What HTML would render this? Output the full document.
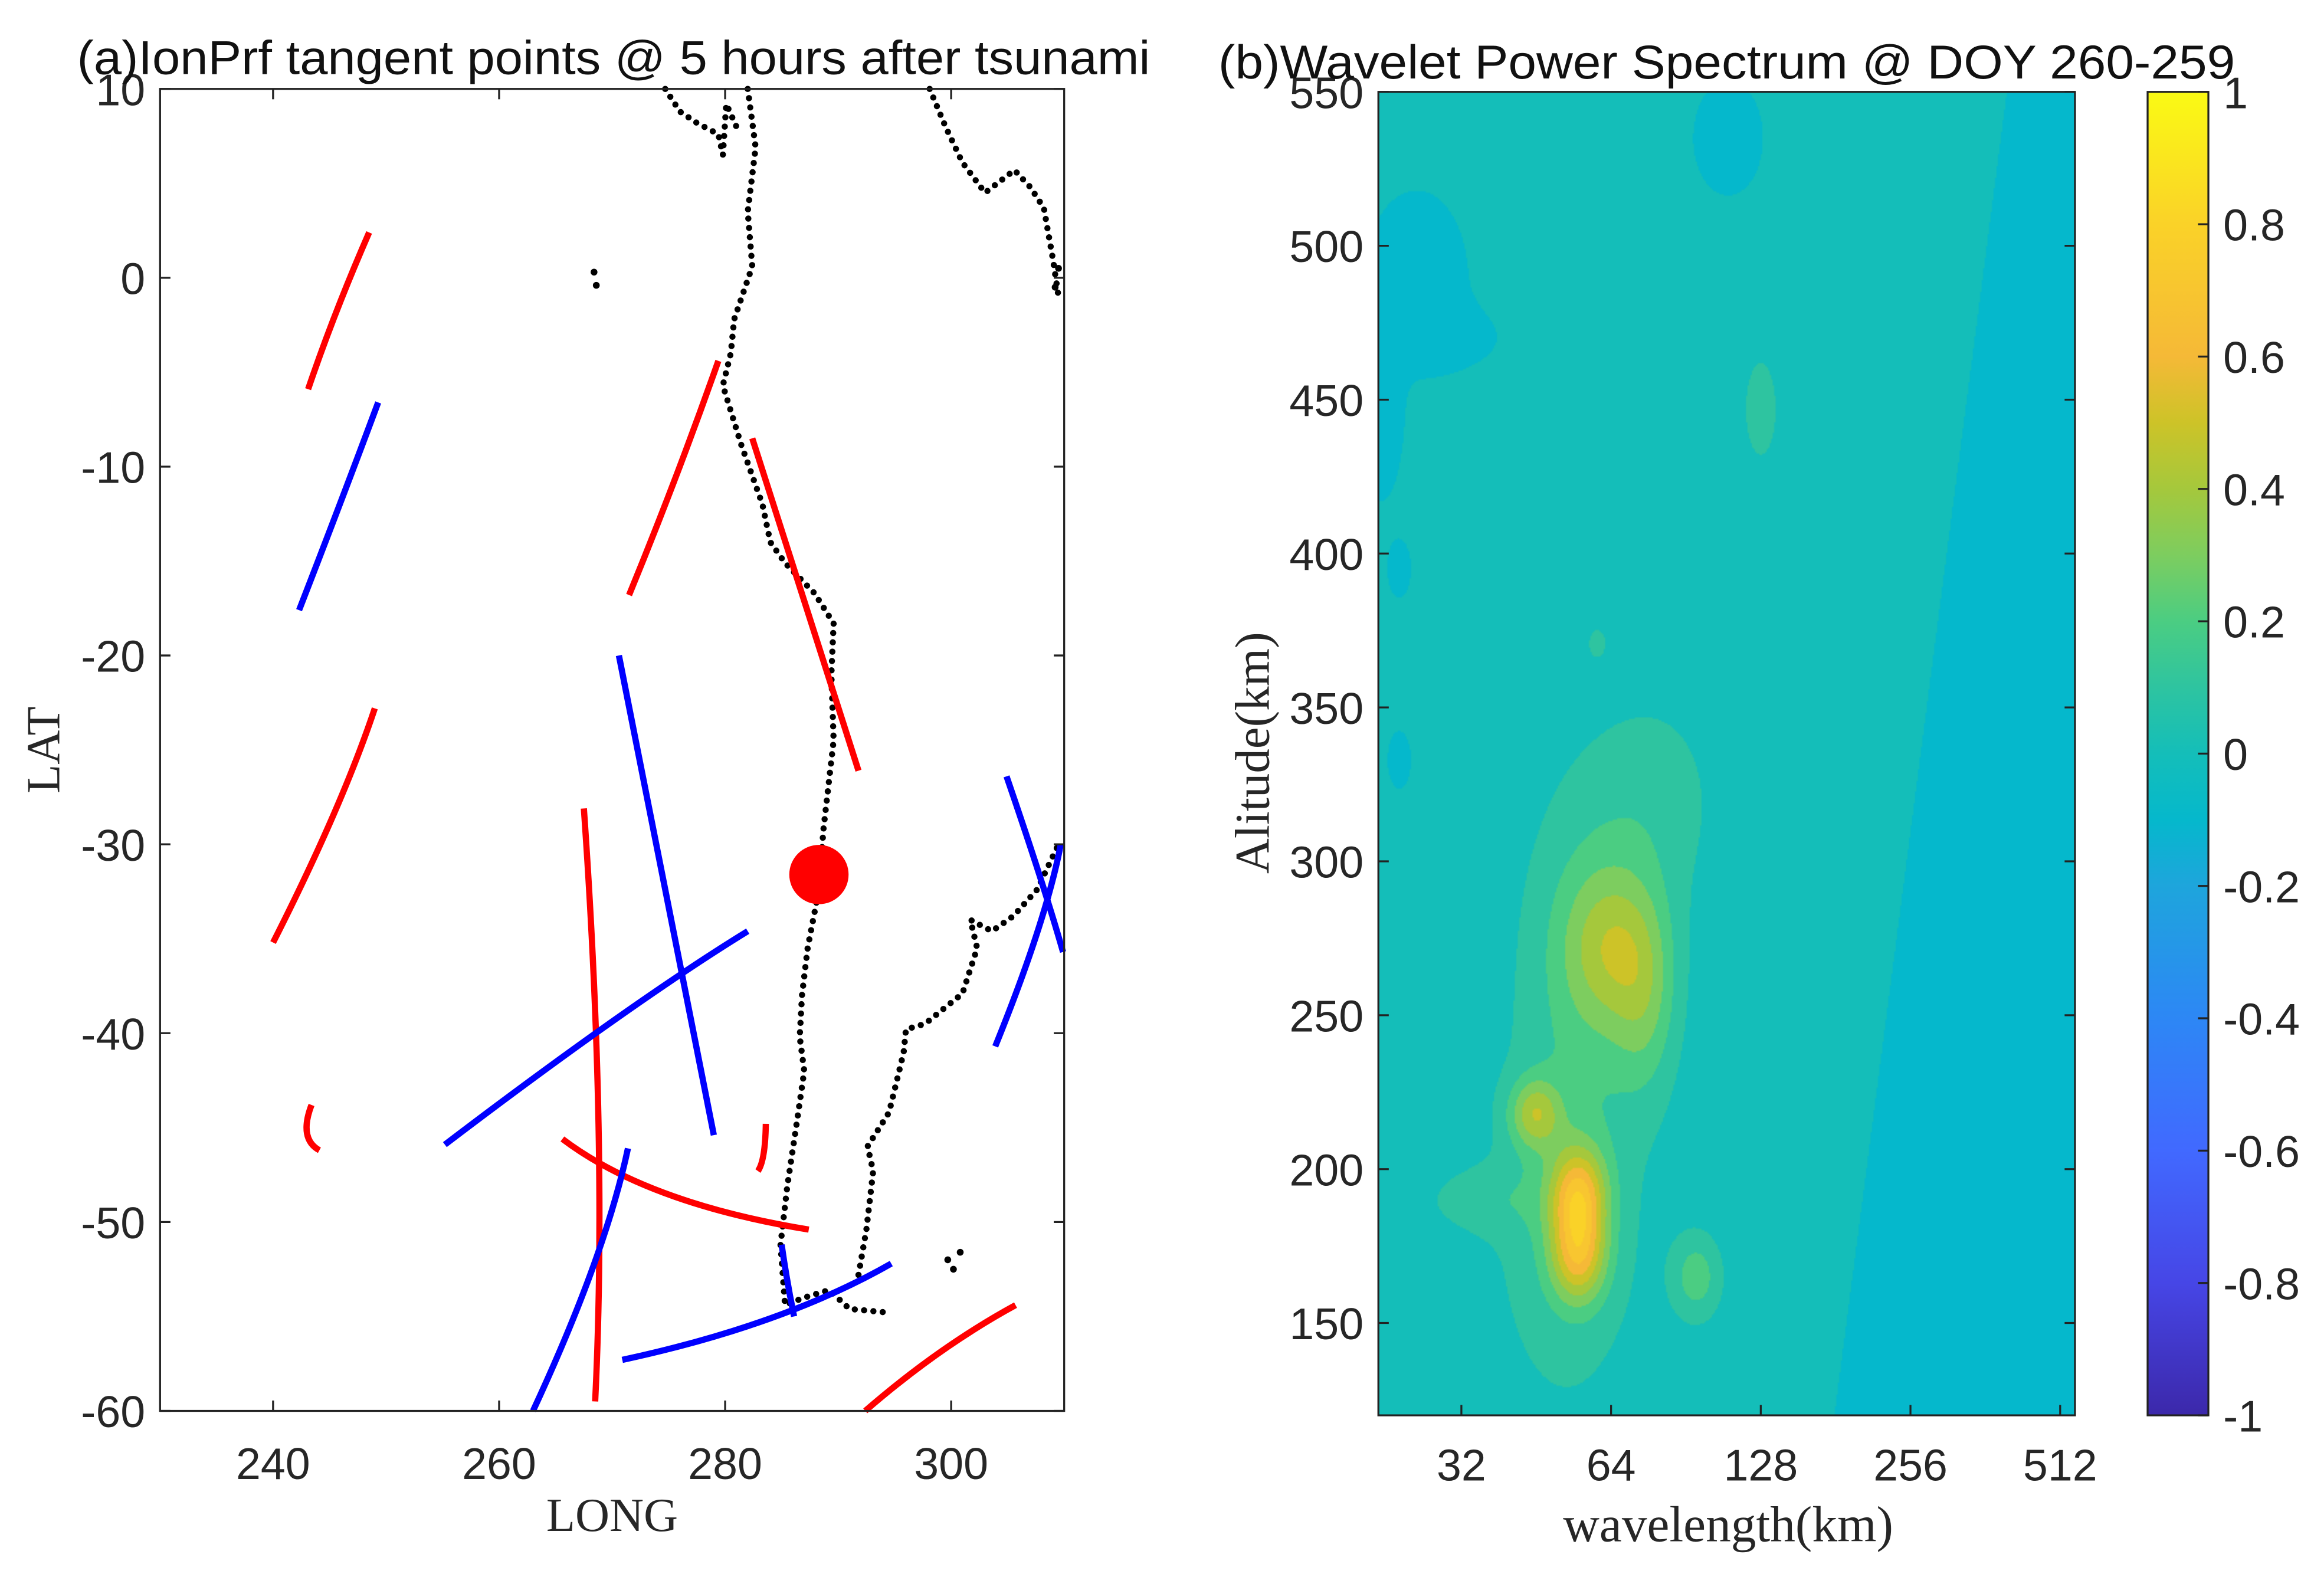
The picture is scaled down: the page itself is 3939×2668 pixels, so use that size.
<!DOCTYPE html>
<html><head><meta charset="utf-8"><style>
html,body{margin:0;padding:0;background:#fff;width:3939px;height:2668px;overflow:hidden}
#wrap{position:absolute;left:0;top:0;width:1568px;height:1062px;transform:scale(2.5121);transform-origin:0 0}
svg,canvas{position:absolute;left:0;top:0}
text{font-family:"Liberation Sans",Arial,sans-serif}
.serif{font-family:"Liberation Serif",serif}
</style></head><body>
<div id="wrap">
<canvas id="heat" width="470" height="893" style="left:930px;top:62px;width:470px;height:893px"></canvas>
<svg id="svg" width="1568" height="1062" viewBox="0 0 1568 1062"></svg>
</div>
<script>
// ---- Panel (a) data ----
const lonTicks=[240,260,280,300];
const latTicks=[10,0,-10,-20,-30,-40,-50,-60];
// tracks: [lon0,lat0,lonMid,latMid,lon1,lat1]
const redTracks=[[243.1,-5.9,245.6,-1.8,248.5,2.4],[240,-35.2,245.3,-28.5,249,-22.8],[271.5,-16.8,275.6,-10.6,279.4,-4.4],
 [282.4,-8.5,287.1,-17.3,291.8,-26.1],[267.5,-28.1,268.8,-44.9,268.5,-59.5],[243.4,-43.8,243.0,-45.3,244.1,-46.2],
 [283.6,-44.8,283.4,-46.4,282.9,-47.3],[265.6,-45.6,274.8,-48.5,287.4,-50.4],[292.4,-60,299,-56.9,305.7,-54.4]];
const blueTracks=[[242.3,-17.6,245.9,-12.0,249.3,-6.6],[270.6,-20,274.8,-32.7,279,-45.4],[255.2,-45.9,270.2,-39.3,282,-34.6],
 [263,-60,268.3,-52.4,271.4,-46.1],[270.9,-57.3,284,-55.1,294.7,-52.2],[285,-51.2,285.5,-53.1,286.1,-55],
 [303.9,-40.7,307.6,-34.7,309.7,-30],[304.9,-26.4,307.8,-31.6,309.9,-35.7]];
const epicenter=[288.3,-31.6];
const coastWest=[[282.0,10],[282.7,6.9],[282.0,3.5],[282.4,0.6],[281.2,-1.5],[280.8,-2.2],[280.5,-4],[279.8,-5.7],[281.4,-8.8],[283.3,-12.0],[284,-14],[285.3,-15.1],[287.9,-16.7],[289.6,-18.3],[289.4,-21],[289.6,-24.5],[288.7,-29.2],[288.3,-32.4],[287.3,-35.5],[286.8,-38],[286.6,-40.2],[287,-42],[286.3,-44.9],[285.9,-46.5],[285.5,-48.1],[284.9,-51.2],[285.3,-54.4],[287,-54],[289.2,-53.6],[291,-54.6],[294.5,-54.8]];
const coastEast=[[291.8,-52.8],[292.5,-50.4],[293.1,-47.3],[292.6,-46],[294.5,-44.2],[295.2,-42.5],[295.8,-41.0],[296,-39.8],[297.7,-39.5],[301.0,-37.9],[302.3,-35.5],[301.7,-34.0],[303.6,-34.6],[305.5,-33.8],[307.6,-32.4],[309.5,-30.0]];
const coastNW=[[274.7,10],[276,8.8],[277.5,8.2],[279.4,7.6],[279.8,6.5],[280.1,9.2],[281,8]];
const coastNE=[[298.1,10],[299.5,8],[301.0,6.1],[303.0,4.5],[305.6,5.7],[307,4.8],[308.2,3.7],[309,1],[309.5,-1.0]];
const islands=[[268.6,-0.4],[268.4,0.3],[299.7,-52],[300.8,-51.6],[300.2,-52.5],[309.5,0.5],[309.2,-0.5]];
// ---- Panel (b) data ----
const altTicks=[150,200,250,300,350,400,450,500,550];
const wlTicks=[32,64,128,256,512];
const cbTicks=[-1,-0.8,-0.6,-0.4,-0.2,0,0.2,0.4,0.6,0.8,1];
const blobWl=[58,52,64,75,45,55,55,35,80,95,128,60,26,22,110,24,24,30];
const blobAlt=[275,185,272,255,218,192,172,190,320,165,447,371,490,445,535,395,333,470];
const blobAmp=[0.16,0.15,0.28,0.2,0.35,0.52,0.48,0.1,0.1,0.22,0.15,0.1,-0.1,-0.1,-0.1,-0.1,-0.1,-0.05];
const blobSx=[0.32,0.35,0.22,0.15,0.12,0.13,0.13,0.3,0.3,0.12,0.08,0.05,0.22,0.1,0.15,0.05,0.05,0.3];
const blobSy=[40,45,18,22,8,11,11,8,25,10,12,4,18,18,12,6,6,8];

const NS='http://www.w3.org/2000/svg';
const svg=document.getElementById('svg');
function el(tag,attrs,parent){const e=document.createElementNS(NS,tag);for(const k in attrs)e.setAttribute(k,attrs[k]);(parent||svg).appendChild(e);return e;}
const ax={x0:108,x1:718,y0:60,y1:952,lon0:230,lon1:310,lat0:-60,lat1:10};
const X=l=>ax.x0+(l-ax.lon0)/(ax.lon1-ax.lon0)*(ax.x1-ax.x0);
const Y=l=>ax.y1-(l-ax.lat0)/(ax.lat1-ax.lat0)*(ax.y1-ax.y0);
const gA=el('g',{});


function dotted(pts,name){const p=el('polyline',{points:pts.map(q=>X(q[0])+','+Y(q[1])).join(' '),fill:'none',stroke:'#000','stroke-width':4.2,'stroke-linecap':'round','stroke-dasharray':'0 6.3'},gA);

}
dotted(coastWest,'coastline-west');dotted(coastEast,'coastline-east');dotted(coastNW,'coastline-north');dotted(coastNE,'coastline-northeast');
islands.forEach(q=>{const c=el('circle',{cx:X(q[0]),cy:Y(q[1]),r:2.3,fill:'#000'},gA);

});
function track(t,color,name){const x0=X(t[0]),y0=Y(t[1]),xm=X(t[2]),ym=Y(t[3]),x1=X(t[4]),y1=Y(t[5]);
const cx=2*xm-(x0+x1)/2,cy=2*ym-(y0+y1)/2;
const p=el('path',{d:`M${x0},${y0} Q${cx},${cy} ${x1},${y1}`,fill:'none',stroke:color,'stroke-width':4.2},gA);

}
redTracks.forEach(t=>track(t,'#ff0000','red-tangent-track'));
blueTracks.forEach(t=>track(t,'#0000ff','blue-tangent-track'));
const ep=el('circle',{cx:X(epicenter[0]),cy:Y(epicenter[1]),r:20,fill:'#ff0000'},gA);


const fa=el('rect',{x:ax.x0,y:ax.y0,width:ax.x1-ax.x0,height:ax.y1-ax.y0,fill:'none',stroke:'#222','stroke-width':1.3},gA);


lonTicks.forEach(v=>{el('line',{x1:X(v),x2:X(v),y1:ax.y1,y2:ax.y1-7,stroke:'#222','stroke-width':1.3},gA);el('line',{x1:X(v),x2:X(v),y1:ax.y0,y2:ax.y0+7,stroke:'#222','stroke-width':1.3},gA);
const t=el('text',{x:X(v),y:ax.y1+46,'font-size':30,'text-anchor':'middle',fill:'#262626'},gA);t.textContent=v;

});
latTicks.forEach(v=>{el('line',{x1:ax.x0,x2:ax.x0+7,y1:Y(v),y2:Y(v),stroke:'#222','stroke-width':1.3},gA);el('line',{x1:ax.x1,x2:ax.x1-7,y1:Y(v),y2:Y(v),stroke:'#222','stroke-width':1.3},gA);
const t=el('text',{x:ax.x0-10,y:Y(v)+11,'font-size':30,'text-anchor':'end',fill:'#262626'},gA);t.textContent=v;

});
let t;
t=el('text',{x:52,y:50,'font-size':32,fill:'#111',textLength:724,lengthAdjust:'spacingAndGlyphs'});t.textContent='(a)IonPrf tangent points @ 5 hours after tsunami';


t=el('text',{x:413,y:1033,'font-size':32,'text-anchor':'middle',fill:'#262626',class:'serif'});t.textContent='LONG';


t=el('text',{x:40,y:506,'font-size':32,'text-anchor':'middle',fill:'#262626',class:'serif',transform:'rotate(-90 40 506)'});t.textContent='LAT';



const bx={x0:930,x1:1400,y0:62,y1:955,a0:120,a1:550};
const lw0=Math.log2(32)-(986-930)/101, lw1=Math.log2(32)+(1400-986)/101;
const BX=w=>bx.x0+(Math.log2(w)-lw0)/(lw1-lw0)*(bx.x1-bx.x0);
const BY=a=>bx.y1-(a-bx.a0)/(bx.a1-bx.a0)*(bx.y1-bx.y0);
const cmapV=[-1,-0.8,-0.6,-0.4,-0.2,-0.1,0,0.1,0.2,0.3,0.4,0.5,0.6,0.8,1];
const cmapC=[[60,40,170],[70,70,230],[65,105,255],[45,135,245],[30,165,220],[5,184,204],[20,190,185],[46,196,160],[75,205,130],[125,205,95],[165,200,60],[205,195,40],[245,185,55],[250,210,40],[250,250,20]];
function parula(v){v=Math.max(-1,Math.min(1,v));let i=0;while(i<cmapV.length-2&&v>cmapV[i+1])i++;const f=(v-cmapV[i])/(cmapV[i+1]-cmapV[i]);
return cmapC[i].map((c,k)=>Math.round(c+(cmapC[i+1][k]-c)*f));}
const cv=document.getElementById('heat'),ctx=cv.getContext('2d'),img=ctx.createImageData(470,893);
for(let py=0;py<893;py++){const alt=bx.a1-(py+0.5)/893*(bx.a1-bx.a0);
 const bnd=Math.log2(180)+(alt-120)/(430)*(Math.log2(400)-Math.log2(180));
 for(let px=0;px<470;px++){const lw=lw0+(px+0.5)/470*(lw1-lw0);
  let v=lw<bnd?0.03:-0.05;
  for(let i=0;i<blobWl.length;i++){const dx=(lw-Math.log2(blobWl[i]))/blobSx[i],dy=(alt-blobAlt[i])/blobSy[i];v+=blobAmp[i]*Math.exp(-0.5*(dx*dx+dy*dy));}
  v=Math.floor(v*10+1e-6)/10;
  const c=parula(v),o=(py*470+px)*4;img.data[o]=c[0];img.data[o+1]=c[1];img.data[o+2]=c[2];img.data[o+3]=255;}}
ctx.putImageData(img,0,0);
const gB=el('g',{});


const fb=el('rect',{x:bx.x0,y:bx.y0,width:bx.x1-bx.x0,height:bx.y1-bx.y0,fill:'none',stroke:'#222','stroke-width':1.3},gB);


wlTicks.forEach(v=>{el('line',{x1:BX(v),x2:BX(v),y1:bx.y1,y2:bx.y1-7,stroke:'#222','stroke-width':1.3},gB);
const t=el('text',{x:BX(v),y:bx.y1+44,'font-size':30,'text-anchor':'middle',fill:'#262626'},gB);t.textContent=v;

});
altTicks.forEach(v=>{el('line',{x1:bx.x0,x2:bx.x0+7,y1:BY(v),y2:BY(v),stroke:'#222','stroke-width':1.3},gB);el('line',{x1:bx.x1,x2:bx.x1-7,y1:BY(v),y2:BY(v),stroke:'#222','stroke-width':1.3},gB);
const t=el('text',{x:bx.x0-10,y:BY(v)+11,'font-size':30,'text-anchor':'end',fill:'#262626'},gB);t.textContent=v;

});
t=el('text',{x:822,y:53,'font-size':32,fill:'#111',textLength:686,lengthAdjust:'spacingAndGlyphs'});t.textContent='(b)Wavelet Power Spectrum @ DOY 260-259';


t=el('text',{x:1166,y:1040,'font-size':34,'text-anchor':'middle',fill:'#262626',class:'serif'});t.textContent='wavelength(km)';


t=el('text',{x:856,y:508,'font-size':33,'text-anchor':'middle',fill:'#262626',class:'serif',transform:'rotate(-90 856 508)'});t.textContent='Alitude(km)';


const defs=el('defs',{});const lg=el('linearGradient',{id:'cb',x1:0,y1:1,x2:0,y2:0},defs);
cmapV.forEach((v,i)=>el('stop',{offset:(v+1)/2,'stop-color':`rgb(${cmapC[i]})`},lg));
const cb={x0:1449,x1:1490,y0:62,y1:955};
const cbr=el('rect',{x:cb.x0,y:cb.y0,width:cb.x1-cb.x0,height:cb.y1-cb.y0,fill:'url(#cb)',stroke:'#222','stroke-width':1.3});


const CY=v=>cb.y1-(v+1)/2*(cb.y1-cb.y0);
cbTicks.forEach(v=>{el('line',{x1:cb.x1,x2:cb.x1-7,y1:CY(v),y2:CY(v),stroke:'#222','stroke-width':1.3});
const t=el('text',{x:cb.x1+10,y:CY(v)+11,'font-size':30,fill:'#262626'});t.textContent=Math.round(v*10)/10;

});
</script>
</body></html>
